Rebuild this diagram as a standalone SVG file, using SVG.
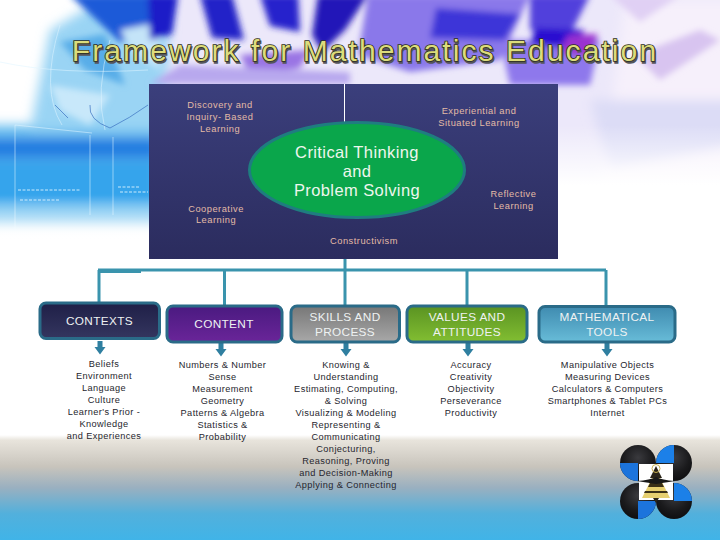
<svg xmlns="http://www.w3.org/2000/svg" width="720" height="540" viewBox="0 0 720 540">
<style>
text{font-family:"Liberation Sans",Arial,sans-serif;text-anchor:middle}
.p{font-size:9.300px;fill:#e3bba6;letter-spacing:.5px}
.b{font-size:9.200px;fill:#26262e;letter-spacing:.4px}
.h{font-size:11.800px;fill:#eef2f2;letter-spacing:.35px}
.box{stroke:#2a6b88;stroke-width:3}
.c{stroke:#3a94ad;stroke-width:3;fill:none}
.t{font-size:16.500px;fill:#eef6ee;letter-spacing:.4px}
.ln{stroke:#dff4ff;stroke-width:1;fill:none;opacity:.55}
.ti{font-size:30px;letter-spacing:2.080px}
</style>
<defs>
<filter id="bl" x="-30%" y="-30%" width="160%" height="160%"><feGaussianBlur stdDeviation="6"/></filter>
<filter id="bl2" x="-20%" y="-20%" width="140%" height="140%"><feGaussianBlur stdDeviation="3"/></filter>
<linearGradient id="bg" x1="0" y1="0" x2="0" y2="1"><stop offset="0" stop-color="#fff"/><stop offset=".05" stop-color="#e8e4dc"/><stop offset=".3" stop-color="#c8c4bc"/><stop offset=".5" stop-color="#9ab0c0"/><stop offset=".75" stop-color="#52b0dc"/><stop offset="1" stop-color="#40b4e8"/></linearGradient>
<linearGradient id="fadeL" x1="0" y1="0" x2="0" y2="1"><stop offset="0" stop-color="#fff" stop-opacity="0"/><stop offset="1" stop-color="#fff"/></linearGradient>
<linearGradient id="panel" x1="0" y1="0" x2="0" y2="1"><stop offset="0" stop-color="#3b3f7c"/><stop offset="1" stop-color="#2b2c5e"/></linearGradient>
<linearGradient id="g1" x1="0" y1="0" x2="0" y2="1"><stop offset="0" stop-color="#1f1f47"/><stop offset="1" stop-color="#34365f"/></linearGradient>
<linearGradient id="g2" x1="0" y1="0" x2="0" y2="1"><stop offset="0" stop-color="#4a1a80"/><stop offset="1" stop-color="#6a2599"/></linearGradient>
<linearGradient id="g3" x1="0" y1="0" x2="0" y2="1"><stop offset="0" stop-color="#777"/><stop offset="1" stop-color="#a8a8a8"/></linearGradient>
<linearGradient id="g4" x1="0" y1="0" x2="0" y2="1"><stop offset="0" stop-color="#5a9322"/><stop offset="1" stop-color="#82be32"/></linearGradient>
<linearGradient id="g5" x1="0" y1="0" x2="0" y2="1"><stop offset="0" stop-color="#3f8bb0"/><stop offset="1" stop-color="#68bcd8"/></linearGradient>
<radialGradient id="ball" cx=".5" cy=".35" r=".7"><stop offset="0" stop-color="#3a3a3e"/><stop offset=".6" stop-color="#1a1a1c"/><stop offset="1" stop-color="#0c0c0e"/></radialGradient>
<path id="ar" d="M-2.500 0H2.500V6H5.500L0 13.500L-5.500 6H-2.500Z" fill="#2f7fa0"/>
<clipPath id="top"><rect width="720" height="290"/></clipPath>
</defs>

<g id="background">
<rect width="720" height="540" fill="#fff"/>
<g clip-path="url(#top)">
<rect x="150" width="570" height="240" fill="#ece8fa"/>
<g filter="url(#bl)">
<path d="M625 0H740V200H600Z" fill="#f6f0fb"/>
<path d="M590 100H740V145L610 170Z" fill="#dcdcf6"/>
<path d="M-20 125H160V225H-20Z" fill="#6cc0f0"/>
<path d="M50 30L110 -5H170L165 130H30Z" fill="#9ad4f4"/>
<path d="M-20 138H160V158H-20Z" fill="#1f7ae0"/>
<path d="M-20 160H160V205H-20Z" fill="#35a4ec"/>
</g>
<g filter="url(#bl2)">
<path d="M70 -5H175L165 25L120 42Z" fill="#1f5ad8"/>
<path d="M120 30L160 22L160 70L135 55Z" fill="#c4e4f8"/>
<path d="M60 42L105 34L125 85L85 70Z" fill="#58ade8"/>
<path d="M50 85L110 95L90 125L60 110Z" fill="#c8e8fa"/>
<path d="M148 -5H178L172 34L150 40Z" fill="#1e1cc8"/>
<path d="M200 -5H232L244 40L212 38Z" fill="#2020c8"/>
<path d="M260 -5H298L300 32L270 26Z" fill="#2522cc"/>
<path d="M318 -5H368L345 30L322 52L312 35Z" fill="#2418b8"/>
<path d="M240 55L310 50L300 68L250 75Z" fill="#9a74e4"/>
<path d="M368 -5H530L500 60L410 72L358 55Z" fill="#8a78ea"/>
<path d="M436 8L520 14L505 40L430 38Z" fill="#3c34d8"/>
<path d="M500 40H600L590 85H510Z" fill="#8e78ec"/>
<path d="M530 -5H590L570 35L530 30Z" fill="#5140dc"/>
<path d="M535 28L585 30L572 48L530 45Z" fill="#2c10d0"/>
<path d="M568 35L598 34L590 56L558 54Z" fill="#9a30d0"/>
<path d="M180 65L350 72L350 84H150Z" fill="#b8a8ee"/>
<path d="M635 55L700 30L720 40L660 80Z" fill="#d8c4f0"/>
<path d="M610 -5H680L640 22Z" fill="#e0d0f4"/>
</g>
<path class="ln" d="M15 125V230M90 135V215M113 137V215M15 125L92 133M60 25Q40 90 62 125M110 40Q95 90 105 130M0 62Q60 75 148 70"/>
<path d="M55 105L68 118M90 105Q88 120 110 128Q130 118 148 105" stroke="#3a70c0" stroke-width="1" fill="none" opacity=".7"/>
<path d="M18 190H80M120 192H148M20 200H60M118 187H140" stroke="#d8f2ff" stroke-width="1.500" stroke-dasharray="3 1.500" fill="none" opacity=".6"/>
<rect y="195" width="150" height="50" fill="url(#fadeL)"/>
<rect y="245" width="150" height="45" fill="#fff"/>
<rect x="558" y="125" width="162" height="60" fill="url(#fadeL)"/>
<rect x="558" y="185" width="162" height="105" fill="#fff"/>
</g>
<rect y="435" width="720" height="105" fill="url(#bg)"/>
</g>

<g id="title">
<text class="ti" x="365" y="61" fill="#55555c" stroke="#55555c" stroke-width="1.500" transform="translate(1.200,1.500)">Framework for Mathematics Education</text>
<text class="ti" x="365" y="61" fill="#dcdc7c" stroke="#2e2e1c" stroke-width="1.600" paint-order="stroke">Framework for Mathematics Education</text>
</g>

<g id="panel">
<rect x="149" y="84" width="409" height="175" fill="url(#panel)"/>
<line x1="344.500" y1="84" x2="344.500" y2="123" stroke="#fff" stroke-width="1"/>
<text class="p"><tspan x="220" y="108">Discovery and</tspan><tspan x="220" y="120">Inquiry- Based</tspan><tspan x="220" y="132">Learning</tspan></text>
<text class="p"><tspan x="479" y="114">Experiential and</tspan><tspan x="479" y="126">Situated Learning</tspan></text>
<text class="p"><tspan x="216" y="212">Cooperative</tspan><tspan x="216" y="223">Learning</tspan></text>
<text class="p"><tspan x="513.500" y="197">Reflective</tspan><tspan x="513.500" y="209">Learning</tspan></text>
<text class="p" x="364" y="244">Constructivism</text>
</g>

<g id="critical-thinking">
<ellipse cx="357" cy="170" rx="107.500" ry="47.500" fill="#0aa64b" stroke="#1f7d80" stroke-width="3"/>
<text class="t"><tspan x="357" y="157.500">Critical Thinking</tspan><tspan x="357" y="176.500">and</tspan><tspan x="357" y="195.500">Problem Solving</tspan></text>
</g>

<g id="connectors">
<path class="c" d="M345 259V270M99 302V271.500H141M98 270H606M224.500 270V305M345 270V305M467 270V305M606 270V306"/>
<use href="#ar" x="100" y="341"/>
<use href="#ar" x="221" y="343"/>
<use href="#ar" x="346" y="343"/>
<use href="#ar" x="468" y="343"/>
<use href="#ar" x="607" y="343"/>
</g>

<g id="contexts">
<rect class="box" x="40" y="303" width="119.500" height="35.500" rx="6" fill="url(#g1)"/>
<text class="h" x="99.500" y="325">CONTEXTS</text>
<text class="b"><tspan x="104" y="367">Beliefs</tspan><tspan x="104" y="379">Environment</tspan><tspan x="104" y="391">Language</tspan><tspan x="104" y="403">Culture</tspan><tspan x="104" y="415">Learner's Prior -</tspan><tspan x="104" y="427">Knowledge</tspan><tspan x="104" y="439">and Experiences</tspan></text>
</g>
<g id="content">
<rect class="box" x="167" y="306" width="115" height="36" rx="6" fill="url(#g2)"/>
<text class="h" x="224" y="327.500">CONTENT</text>
<text class="b"><tspan x="222.500" y="368">Numbers &amp; Number</tspan><tspan x="222.500" y="380">Sense</tspan><tspan x="222.500" y="392">Measurement</tspan><tspan x="222.500" y="404">Geometry</tspan><tspan x="222.500" y="416">Patterns &amp; Algebra</tspan><tspan x="222.500" y="428">Statistics &amp;</tspan><tspan x="222.500" y="440">Probability</tspan></text>
</g>
<g id="skills">
<rect class="box" x="291" y="306" width="108.500" height="36" rx="6" fill="url(#g3)"/>
<text class="h"><tspan x="345" y="320.500">SKILLS AND</tspan><tspan x="345" y="335.500">PROCESS</tspan></text>
<text class="b"><tspan x="346" y="368">Knowing &amp;</tspan><tspan x="346" y="380">Understanding</tspan><tspan x="346" y="392">Estimating, Computing,</tspan><tspan x="346" y="404">&amp; Solving</tspan><tspan x="346" y="416">Visualizing &amp; Modeling</tspan><tspan x="346" y="428">Representing &amp;</tspan><tspan x="346" y="440">Communicating</tspan><tspan x="346" y="452">Conjecturing,</tspan><tspan x="346" y="464">Reasoning, Proving</tspan><tspan x="346" y="476">and Decision-Making</tspan><tspan x="346" y="488">Applying &amp; Connecting</tspan></text>
</g>
<g id="values">
<rect class="box" x="407" y="306" width="120" height="36" rx="6" fill="url(#g4)"/>
<text class="h"><tspan x="467" y="320.500">VALUES AND</tspan><tspan x="467" y="335.500">ATTITUDES</tspan></text>
<text class="b"><tspan x="471" y="368">Accuracy</tspan><tspan x="471" y="380">Creativity</tspan><tspan x="471" y="392">Objectivity</tspan><tspan x="471" y="404">Perseverance</tspan><tspan x="471" y="416">Productivity</tspan></text>
</g>
<g id="tools">
<rect class="box" x="539" y="306.500" width="136" height="35.500" rx="6" fill="url(#g5)"/>
<text class="h"><tspan x="607" y="320.500">MATHEMATICAL</tspan><tspan x="607" y="335.500">TOOLS</tspan></text>
<text class="b"><tspan x="607.500" y="368">Manipulative Objects</tspan><tspan x="607.500" y="380">Measuring Devices</tspan><tspan x="607.500" y="392">Calculators &amp; Computers</tspan><tspan x="607.500" y="404">Smartphones &amp; Tablet PCs</tspan><tspan x="607.500" y="416">Internet</tspan></text>
</g>

<g id="logo">
<circle cx="638" cy="463" r="18" fill="url(#ball)"/>
<circle cx="674" cy="463" r="18" fill="url(#ball)"/>
<circle cx="638" cy="501" r="18" fill="url(#ball)"/>
<circle cx="674" cy="501" r="18" fill="url(#ball)"/>
<path d="M638 463H620A18 18 0 0 0 638 481Z" fill="#1c74dc"/>
<path d="M674 463V445A18 18 0 0 0 656 463Z" fill="#1c80e8"/>
<path d="M638 501V519A18 18 0 0 0 656 501Z" fill="#1c74dc"/>
<path d="M674 501V483A18 18 0 0 1 692 501Z" fill="#1c80e8"/>
<rect x="639" y="464" width="34" height="36" fill="#fff"/>
<path d="M656 470L642 498H670Z" fill="#e6cf70"/>
<path d="M656 466L650 478H662Z" fill="#2a2418"/>
<path d="M650 483H662L664 487H648ZM645 491H667L668 493H644Z" fill="#3a3018"/>
<path d="M653 498H659L656 503Z" fill="#2a2418"/>
<path d="M637 481Q650 480 656 477Q662 480 675 481Q662 483 656 484Q650 483 637 481Z" fill="#181818"/>
<circle cx="656" cy="468.500" r="4" fill="none" stroke="#c8b050" stroke-width="1"/>
</g>
</svg>
